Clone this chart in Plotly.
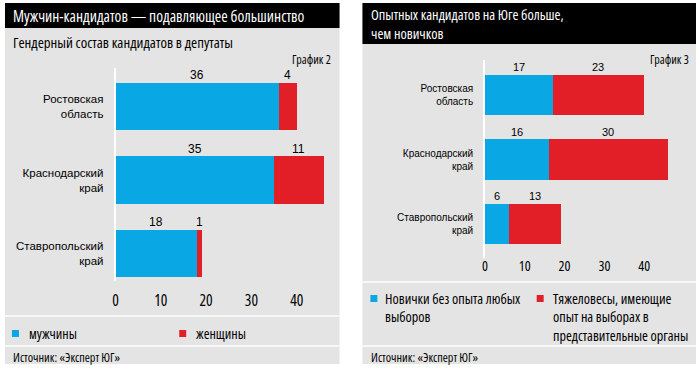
import plotly.graph_objects as go

# ---- data ----
regions = ["Ростовская<br>область", "Краснодарский<br>край", "Ставропольский<br>край"]
men = [36, 35, 18]
women = [4, 11, 1]
novices = [17, 16, 6]
veterans = [23, 30, 13]
x_ticks = [0, 10, 20, 30, 40]

title_left = ["Мужчин-кандидатов — подавляющее большинство"]
subtitle_left = "Гендерный состав кандидатов в депутаты"
title_right = ["Опытных кандидатов на Юге больше,", "чем новичков"]
legend_left = ["мужчины", "женщины"]
legend_right_1 = ["Новички без опыта любых", "выборов"]
legend_right_2 = ["Тяжеловесы, имеющие", "опыт на выборах в", "представительные органы"]
source = "Источник: «Эксперт ЮГ»"

BLUE = "#09a7e4"
RED = "#e21e26"
GRAY = "#e4e4e4"
COND = "Open Sans, DejaVu Sans Condensed, sans-serif"
REG = "Liberation Sans, Arial, sans-serif"

def cond(s):
    return f"<span style='font-stretch:condensed'>{s}</span>"

W, H = 696, 368
def px(x): return x / W
def py(y): return 1 - y / H

fig = go.Figure()
fig.add_trace(go.Bar(y=regions, x=men, orientation="h", marker=dict(color=BLUE, line_width=0),
                     width=0.64, xaxis="x", yaxis="y", showlegend=False))
fig.add_trace(go.Bar(y=regions, x=women, orientation="h", marker=dict(color=RED, line_width=0),
                     width=0.64, xaxis="x", yaxis="y", showlegend=False))
fig.add_trace(go.Bar(y=regions, x=novices, orientation="h", marker=dict(color=BLUE, line_width=0),
                     width=0.63, xaxis="x2", yaxis="y2", showlegend=False))
fig.add_trace(go.Bar(y=regions, x=veterans, orientation="h", marker=dict(color=RED, line_width=0),
                     width=0.63, xaxis="x2", yaxis="y2", showlegend=False))

shapes = []
# panels
shapes.append(dict(type="rect", xref="paper", yref="paper", x0=px(2), x1=px(338), y0=py(364), y1=py(3),
                   fillcolor=GRAY, line_width=0, layer="below"))
shapes.append(dict(type="rect", xref="paper", yref="paper", x0=px(2), x1=px(338), y0=py(28), y1=py(3),
                   fillcolor="black", line_width=0, layer="below"))
shapes.append(dict(type="rect", xref="paper", yref="paper", x0=px(361), x1=px(696), y0=py(364), y1=py(3),
                   fillcolor=GRAY, line_width=0, layer="below"))
shapes.append(dict(type="rect", xref="paper", yref="paper", x0=px(361), x1=px(696), y0=py(44), y1=py(3),
                   fillcolor="black", line_width=0, layer="below"))
# separators
for y in (316, 346):
    shapes.append(dict(type="line", xref="paper", yref="paper", x0=px(2), x1=px(338), y0=py(y), y1=py(y),
                       line=dict(color="white", width=1.5)))
for y in (282, 346):
    shapes.append(dict(type="line", xref="paper", yref="paper", x0=px(361), x1=px(696), y0=py(y), y1=py(y),
                       line=dict(color="white", width=1.5)))
# legend squares
for x0, y0, c in [(9, 330, BLUE), (177, 330, RED), (369, 295, BLUE), (536, 295, RED)]:
    shapes.append(dict(type="rect", xref="paper", yref="paper", x0=px(x0), x1=px(x0 + 7), y0=py(y0 + 7), y1=py(y0),
                       fillcolor=c, line_width=0))

ann = []
def text(x, y, s, size, color="black", font=COND, xanchor="left"):
    ann.append(dict(xref="paper", yref="paper", x=px(x), y=py(y), text=cond(s),
                    showarrow=False, xanchor=xanchor, yanchor="middle", align="left",
                    font=dict(family=font, size=size, color=color)))

def lines(x, y0, arr, size, step, **kw):
    for k, s in enumerate(arr):
        text(x, y0 + k * step, s, size, **kw)

lines(8, 16, title_left, 15.5, 0, color="white")
text(8, 42, subtitle_left, 14.8)
text(331, 59, "График 2", 12, xanchor="right")
text(368, 23.5, "<br>".join(title_right), 14.3, color="white")
text(691, 59, "График 3", 12, xanchor="right")
text(24, 333, legend_left[0], 14)
text(192, 333, legend_left[1], 14)
lines(382, 298, legend_right_1, 14.2, 18.5)
lines(550, 298, legend_right_2, 14.2, 18.5)
text(8, 357, source, 12.2)
text(368, 357, source, 12.2)

# value labels above segments
for i, r in enumerate(regions):
    for xc, v in [(men[i] / 2, men[i]), (men[i] + women[i] / 2, women[i])]:
        ann.append(dict(xref="x", yref="y", x=xc, y=r, text=str(v), showarrow=False, yshift=31.5,
                        font=dict(family=REG, size=12, color="black")))
    for xc, v in [(novices[i] / 2, novices[i]), (novices[i] + veterans[i] / 2, veterans[i])]:
        ann.append(dict(xref="x2", yref="y2", x=xc, y=r, text=str(v), showarrow=False, yshift=28,
                        font=dict(family=REG, size=11, color="black")))

common_x = dict(tickvals=x_ticks, ticktext=[cond(t) for t in x_ticks], showgrid=False, zeroline=False,
                showline=False, ticks="", fixedrange=True)
common_y = dict(type="category", categoryorder="array", categoryarray=regions, autorange=False,
                showgrid=False, zeroline=False, showline=True, linecolor="white",
                linewidth=1.5, ticks="", ticklabelstandoff=8)

fig.update_layout(
    width=W, height=H, margin=dict(l=0, r=0, t=0, b=0),
    paper_bgcolor="white", plot_bgcolor="rgba(0,0,0,0)",
    barmode="stack", bargap=0.36,
    xaxis=dict(domain=[px(113), px(113 + 47 * 4.55)], range=[0, 47], anchor="y", ticklabelstandoff=8,
               tickfont=dict(family=COND, size=15.5, color="black"), **common_x),
    yaxis=dict(domain=[py(281), py(68)], anchor="x", range=[2.374, -0.524],
               tickfont=dict(family=REG, size=11.5, color="black"), **common_y),
    xaxis2=dict(domain=[px(484), px(484 + 52 * 4.0)], range=[0, 52], anchor="y2", ticklabelstandoff=-2,
                tickfont=dict(family=COND, size=14, color="black"), **common_x),
    yaxis2=dict(domain=[py(258), py(60)], anchor="x2", range=[2.527, -0.543],
                tickfont=dict(family=REG, size=10, color="black"), **common_y),
    shapes=shapes, annotations=ann,
)
fig.write_html("out.html", config={"displayModeBar": False},
               post_script="document.body.style.margin='0px';")
